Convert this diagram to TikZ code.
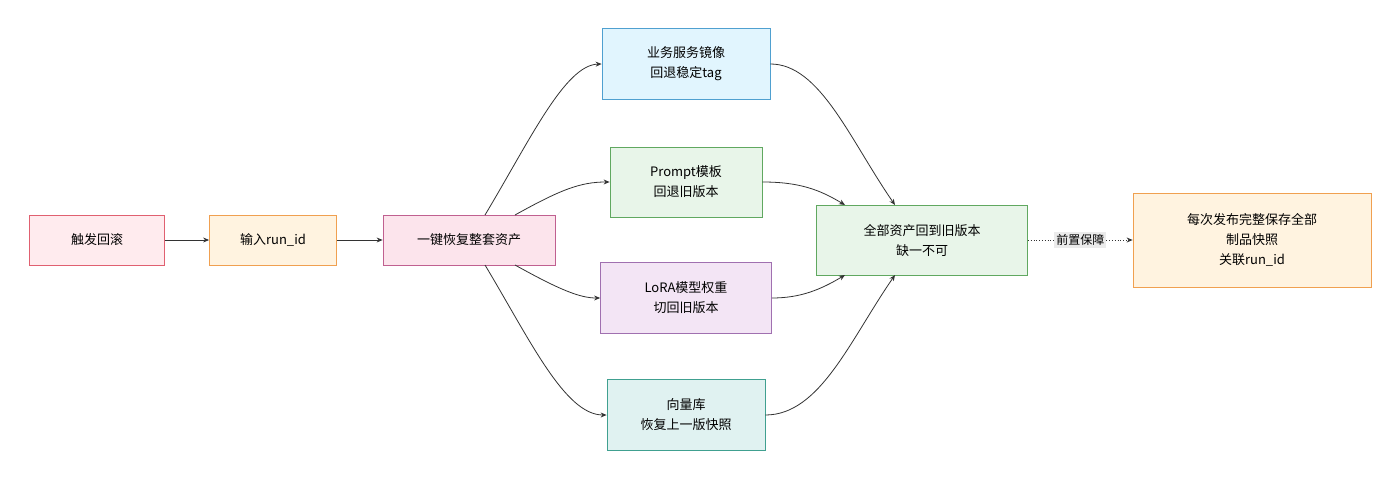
\documentclass[tikz,border=0pt]{standalone}
\usepackage{fontspec}
\setmainfont{Noto Sans CJK SC}
\usetikzlibrary{arrows.meta}
\begin{document}
\begin{tikzpicture}[x=1pt,y=-1pt,
  box/.style={draw,line width=0.8pt,align=center,font=\fontsize{13}{20}\selectfont,inner sep=0pt},
  arr/.style={draw=black!80,line width=0.8pt,-{Stealth[length=6pt,width=5pt]}}]
\useasboundingbox (0,0) rectangle (1400,481);
\definecolor{c1f}{HTML}{FFEBEE}\definecolor{c1d}{HTML}{E06070}
\definecolor{c2f}{HTML}{FFF3E0}\definecolor{c2d}{HTML}{F0A050}
\definecolor{c3f}{HTML}{FCE4EC}\definecolor{c3d}{HTML}{C06090}
\definecolor{c4f}{HTML}{E1F5FE}\definecolor{c4d}{HTML}{4FA0D0}
\definecolor{c5f}{HTML}{E8F5E9}\definecolor{c5d}{HTML}{60A860}
\definecolor{c6f}{HTML}{F3E5F5}\definecolor{c6d}{HTML}{A070B0}
\definecolor{c7f}{HTML}{E0F2F1}\definecolor{c7d}{HTML}{40A090}
\node[box,fill=c1f,draw=c1d,minimum width=135pt,minimum height=50pt] (a) at (97,240) {触发回滚};
\node[box,fill=c2f,draw=c2d,minimum width=127pt,minimum height=50pt] (b) at (273,240) {输入run\_id};
\node[box,fill=c3f,draw=c3d,minimum width=172pt,minimum height=50pt] (c) at (469,240) {一键恢复整套资产};
\node[box,fill=c4f,draw=c4d,minimum width=168pt,minimum height=71pt] (d1) at (686,64) {业务服务镜像\\回退稳定tag};
\node[box,fill=c5f,draw=c5d,minimum width=152pt,minimum height=70pt] (d2) at (686,182) {Prompt模板\\回退旧版本};
\node[box,fill=c6f,draw=c6d,minimum width=171pt,minimum height=71pt] (d3) at (686,298) {LoRA模型权重\\切回旧版本};
\node[box,fill=c7f,draw=c7d,minimum width=158pt,minimum height=71pt] (d4) at (686,415) {向量库\\恢复上一版快照};
\node[box,fill=c5f,draw=c5d,minimum width=211pt,minimum height=70pt] (e) at (922,240) {全部资产回到旧版本\\缺一不可};
\node[box,fill=c2f,draw=c2d,minimum width=238pt,minimum height=94pt] (f) at (1252,240) {每次发布完整保存全部\\制品快照\\关联run\_id};
\draw[arr] (a) -- (b);
\draw[arr] (b) -- (c);
\draw[arr] (485,215) .. controls (530,140) and (565,65) .. (d1.west);
\draw[arr] (515,215) .. controls (560,190) and (580,182) .. (d2.west);
\draw[arr] (515,265) .. controls (560,290) and (580,298) .. (d3.west);
\draw[arr] (485,265) .. controls (530,340) and (565,415) .. (d4.west);
\draw[arr] (d1.east) .. controls (820,64) and (850,140) .. (895,205);
\draw[arr] (d2.east) .. controls (800,182) and (820,190) .. (845,205);
\draw[arr] (d3.east) .. controls (800,298) and (820,290) .. (845,275);
\draw[arr] (d4.east) .. controls (820,415) and (850,340) .. (895,275);
\draw[arr,dotted] (e) -- node[fill=black!8,inner sep=2pt,font=\fontsize{12}{14}\selectfont]{前置保障} (f);
\end{tikzpicture}
\end{document}
